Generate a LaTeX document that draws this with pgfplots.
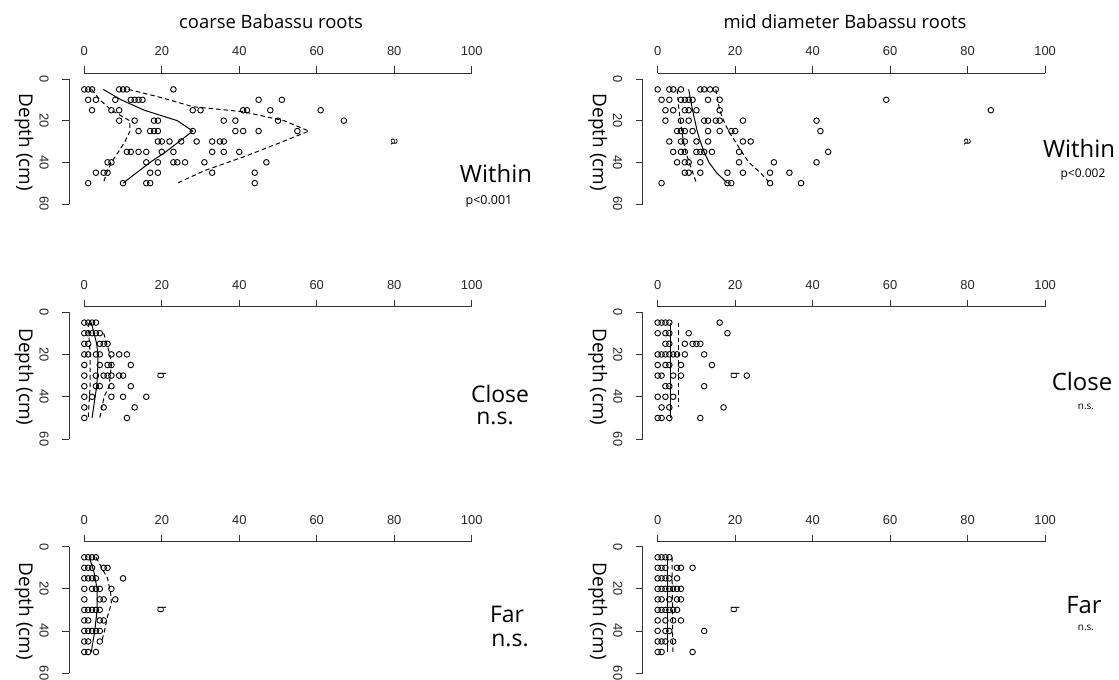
\documentclass[border=0pt]{standalone}
\usepackage{pgfplots}
\pgfplotsset{compat=1.18}
\usepackage{fontspec}
\setmainfont{Liberation Sans}
\newfontfamily\os{Open Sans}

\tikzset{axl/.style={black!80, line width=0.8bp}}
\pgfplotsset{
  rpanel/.style={
    scale only axis, x=3.874bp, y dir=reverse,
    xmin=-3.95, xmax=100, ymax=60,
    enlargelimits=false, clip=false,
    axis line style={draw=none},
    xtick={0,20,40,60,80,100}, ytick={0,20,40,60},
    xtick pos=right, xticklabel pos=right, ytick pos=left,
    tick align=outside, major tick length=7bp,
    every tick/.style={black!80, line width=0.8bp},
    tick label style={font=\fontsize{13}{15}\selectfont, text=black!85},
    /pgf/number format/assume math mode=true,
    xticklabel style={anchor=center, yshift=15bp},
    yticklabel style={xshift=-18bp, rotate=-90, anchor=center},
    ylabel={Depth (cm)},
    every axis y label/.style={at={(axis description cs:0,0.5)}, xshift=-45bp, yshift=-4bp, rotate=-90, anchor=center, font=\os\fontsize{19}{21}\selectfont},
    anchor=north west,
  },
  rowA/.style={y=2.083bp, ymin=-2.88},
  rowB/.style={y=2.12bp, ymin=-2.5},
  rowC/.style={y=2.105bp, ymin=-2.4},
  dots/.style={only marks, mark=o, mark size=2.8bp, mark options={line width=0.9bp, black}},
  med/.style={black, line width=1bp, mark=none},
  qnt/.style={black, line width=1bp, dash pattern=on 4.5bp off 3bp, mark=none},
  letter/.style={only marks, mark=text, text mark={#1}, text mark as node=true,
     text mark style={rotate=-90, font=\fontsize{12}{14}\selectfont}},
}

\begin{document}
\begin{tikzpicture}
\useasboundingbox (0,0) rectangle (1119bp,680bp);

% ---------- coarse, within ----------
\begin{axis}[rpanel, rowA, at={(69bp,607bp)}]
\draw[axl] (axis cs:0,-2.88) -- (axis cs:100,-2.88);
\draw[axl] (axis cs:-3.95,0) -- (axis cs:-3.95,60);
\addplot[dots] coordinates {
(0,5)(1,5)(2,5)(9,5)(10,5)(11,5)(23,5)
(1,10)(3,10)(8,10)(12,10)(13,10)(14,10)(15,10)(45,10)(51,10)
(2,15)(7,15)(9,15)(28,15)(30,15)(41,15)(42,15)(48,15)(61,15)
(9,20)(13,20)(18,20)(19,20)(36,20)(39,20)(50,20)(67,20)
(14,25)(17,25)(18,25)(19,25)(28,25)(39,25)(41,25)(45,25)(55,25)
(19,30)(20,30)(22,30)(25,30)(29,30)(33,30)(35,30)(36,30)
(11,35)(12,35)(14,35)(16,35)(20,35)(23,35)(33,35)(36,35)(40,35)
(6,40)(7,40)(16,40)(19,40)(23,40)(24,40)(26,40)(31,40)(47,40)
(3,45)(5,45)(6,45)(17,45)(19,45)(33,45)(44,45)
(1,50)(10,50)(16,50)(17,50)(44,50)};
\addplot[med] coordinates {(4.9,5)(9.5,10)(15.5,15)(24,20)(28,25)(24.5,30)(21,35)(17,40)(13.5,45)(10,50)};
\addplot[qnt] coordinates {(1.9,5)(4,10)(7,15)(11.7,20)(11.8,25)(10.5,30)(8.8,35)(7,40)(5.8,45)(4.9,50)};
\addplot[qnt] coordinates {(11.4,5)(20,9)(28,13.3)(41,15.7)(51.5,20)(58,25)(51.3,30)(41.7,37)(31,44)(24,50)};
\addplot[letter=a] coordinates {(80,30)};
\end{axis}

% ---------- mid, within ----------
\begin{axis}[rpanel, rowA, at={(642.7bp,607bp)}, xmin=-3.87]
\draw[axl] (axis cs:0,-2.88) -- (axis cs:100,-2.88);
\draw[axl] (axis cs:-3.87,0) -- (axis cs:-3.87,60);
\addplot[dots] coordinates {
(0,5)(3,5)(4,5)(6,5)(11,5)(12,5)(13.5,5)(15,5)
(1,10)(3,10)(6,10)(7,10)(8,10)(9,10)(13,10)(16,10)(59,10)
(2,15)(4,15)(7,15)(8,15)(10,15)(16,15)(86,15)
(2,20)(6,20)(8,20)(12,20)(13,20)(15,20)(16,20)(22,20)(41,20)
(5,25)(6,25)(7,25)(9,25)(13,25)(16,25)(19,25)(20,25)(42,25)
(3,30)(6,30)(7,30)(10,30)(13,30)(22,30)(24,30)
(4,35)(6,35)(7,35)(10,35)(11,35)(12,35)(14,35)(21,35)(44,35)
(5,40)(7,40)(8,40)(11,40)(21,40)(30,40)(41,40)
(7,45)(8,45)(11,45)(18,45)(22,45)(29,45)(34,45)
(1,50)(18,50)(19,50)(29,50)(37,50)};
\addplot[med] coordinates {(8,5)(8.5,10)(9,15)(9.6,20)(10.2,25)(11,30)(12,35)(13.2,40)(15.2,45)(18,50)};
\addplot[qnt] coordinates {(5,5)(5.5,15)(6.2,25)(7.2,35)(8.5,42)(10,50)};
\addplot[qnt] coordinates {(15,5)(15.5,10)(16,15)(17,20)(18.3,25)(20,30)(21.7,35)(23.5,40)(26.5,45)(29,50)};
\addplot[letter=a] coordinates {(80,30)};
\end{axis}

% ---------- coarse, close ----------
\begin{axis}[rpanel, rowB, at={(69bp,373.3bp)}]
\draw[axl] (axis cs:0,-2.5) -- (axis cs:100,-2.5);
\draw[axl] (axis cs:-3.95,0) -- (axis cs:-3.95,60);
\addplot[dots] coordinates {
(0,5)(1,5)(2,5)(3,5)
(0,10)(1,10)(2,10)(3,10)(4,10)
(0,15)(1,15)(4,15)(5,15)(6,15)
(0,20)(1,20)(3,20)(4,20)(7,20)(9,20)(11,20)
(0,25)(4,25)(6,25)(7,25)(12,25)
(0,30)(3,30)(5,30)(6,30)(7,30)(9,30)(10,30)
(0,35)(3,35)(4,35)(7,35)(12,35)
(0,40)(2,40)(7,40)(10,40)(16,40)
(0,45)(5,45)(13,45)
(0,50)(11,50)};
\addplot[med] coordinates {(1.8,5)(2.5,10)(3.2,15)(3.5,20)(3.5,25)(3.4,30)(3.2,35)(2.8,40)(2.4,45)(2,50)};
\addplot[qnt] coordinates {(1,5)(1.5,20)(1.5,35)(1,50)};
\addplot[qnt] coordinates {(5,10)(6.6,20)(7,25)(6.4,35)(5.1,40)(4,50)};
\addplot[letter=b] coordinates {(20,30)};
\end{axis}

% ---------- mid, close ----------
\begin{axis}[rpanel, rowB, at={(642.7bp,373.3bp)}, xmin=-3.87]
\draw[axl] (axis cs:0,-2.5) -- (axis cs:100,-2.5);
\draw[axl] (axis cs:-3.87,0) -- (axis cs:-3.87,60);
\addplot[dots] coordinates {
(0,5)(1,5)(2,5)(3,5)(16,5)
(0,10)(2,10)(3,10)(8,10)(18,10)
(2,15)(3,15)(7,15)(9,15)(10,15)(11,15)
(0,20)(1,20)(2,20)(3,20)(4,20)(5,20)(7,20)(12,20)
(0,25)(2,25)(3,25)(6,25)(14,25)
(0,30)(1,30)(4,30)(6,30)(23,30)
(2,35)(3,35)(12,35)
(0,40)(2,40)(4,40)
(1,45)(3,45)(17,45)
(0,50)(1,50)(3,50)(11,50)};
\addplot[med] coordinates {(3.2,5)(3.2,50)};
\addplot[qnt] coordinates {(5.3,5)(5.3,45)};
\addplot[letter=b] coordinates {(20,30)};
\end{axis}

% ---------- coarse, far ----------
\begin{axis}[rpanel, rowC, at={(69bp,138.3bp)}]
\draw[axl] (axis cs:0,-2.4) -- (axis cs:100,-2.4);
\draw[axl] (axis cs:-3.95,0) -- (axis cs:-3.95,60);
\addplot[dots] coordinates {
(0,5)(1,5)(2,5)(3,5)
(0,10)(1,10)(2,10)(5,10)(6,10)
(0,15)(1,15)(2,15)(3,15)(10,15)
(0,20)(2,20)(3,20)(4,20)(7,20)
(0,25)(4,25)(5,25)(8,25)
(0,30)(1,30)(2,30)(3,30)(4,30)
(0,35)(1,35)(4,35)(5,35)
(0,40)(1,40)(2,40)(3,40)(4,40)
(0,45)(1,45)(4,45)
(0,50)(1,50)(3,50)};
\addplot[med] coordinates {(1.3,5)(2.5,12)(3.3,20)(3.3,30)(2.7,40)(1.8,50)};
\addplot[qnt] coordinates {(3,5)(6,15)(6.8,22)(7,27)(6,33)(5.2,40)(4.5,45)};
\addplot[letter=b] coordinates {(20,30)};
\end{axis}

% ---------- mid, far ----------
\begin{axis}[rpanel, rowC, at={(642.7bp,138.3bp)}, xmin=-3.87]
\draw[axl] (axis cs:0,-2.4) -- (axis cs:100,-2.4);
\draw[axl] (axis cs:-3.87,0) -- (axis cs:-3.87,60);
\addplot[dots] coordinates {
(0,5)(1,5)(2,5)(3,5)
(0,10)(1,10)(2,10)(5,10)(6,10)(9,10)
(0,15)(1,15)(2,15)(3,15)(5,15)
(0,20)(1,20)(2,20)(3,20)(4,20)(5,20)(6,20)
(0,25)(1,25)(3,25)(5,25)(6,25)
(0,30)(1,30)(2,30)(3,30)(4,30)(5,30)
(0,35)(2,35)(4,35)(6,35)
(0,40)(2,40)(3,40)(12,40)
(0,45)(1,45)(2,45)(4,45)
(0,50)(1,50)(9,50)};
\addplot[med] coordinates {(2.5,5)(2.5,50)};
\addplot[qnt] coordinates {(3.7,5)(3.9,50)};
\addplot[letter=b] coordinates {(20,30)};
\end{axis}

% ---------- texts ----------
\node[font=\os\fontsize{18.5}{20}\selectfont] at (271bp,658bp) {coarse Babassu roots};
\node[font=\os\fontsize{18.5}{20}\selectfont] at (845bp,658bp) {mid diameter Babassu roots};

\node[inner sep=0pt, font=\os\fontsize{24}{26}\selectfont] at (496bp,506bp) {Within};
\node[inner sep=0pt, font=\os\fontsize{12.5}{14}\selectfont] at (489bp,479bp) {p<0.001};
\node[inner sep=0pt, font=\os\fontsize{24}{26}\selectfont] at (1079bp,531bp) {Within};
\node[inner sep=0pt, font=\os\fontsize{12}{14}\selectfont] at (1083bp,505bp) {p<0.002};

\node[inner sep=0pt, font=\os\fontsize{23}{25}\selectfont] at (500bp,286bp) {Close};
\node[inner sep=0pt, font=\os\fontsize{23}{25}\selectfont] at (495bp,262bp) {n.s.};
\node[inner sep=0pt, font=\os\fontsize{24}{26}\selectfont] at (1082bp,298bp) {Close};
\node[inner sep=0pt, font=\os\fontsize{10}{12}\selectfont] at (1086bp,273bp) {n.s.};

\node[inner sep=0pt, font=\os\fontsize{23}{25}\selectfont] at (507bp,66bp) {Far};
\node[inner sep=0pt, font=\os\fontsize{23}{25}\selectfont] at (510bp,40bp) {n.s.};
\node[inner sep=0pt, font=\os\fontsize{24}{26}\selectfont] at (1084bp,75bp) {Far};
\node[inner sep=0pt, font=\os\fontsize{10}{12}\selectfont] at (1086bp,52bp) {n.s.};
\end{tikzpicture}
\end{document}
